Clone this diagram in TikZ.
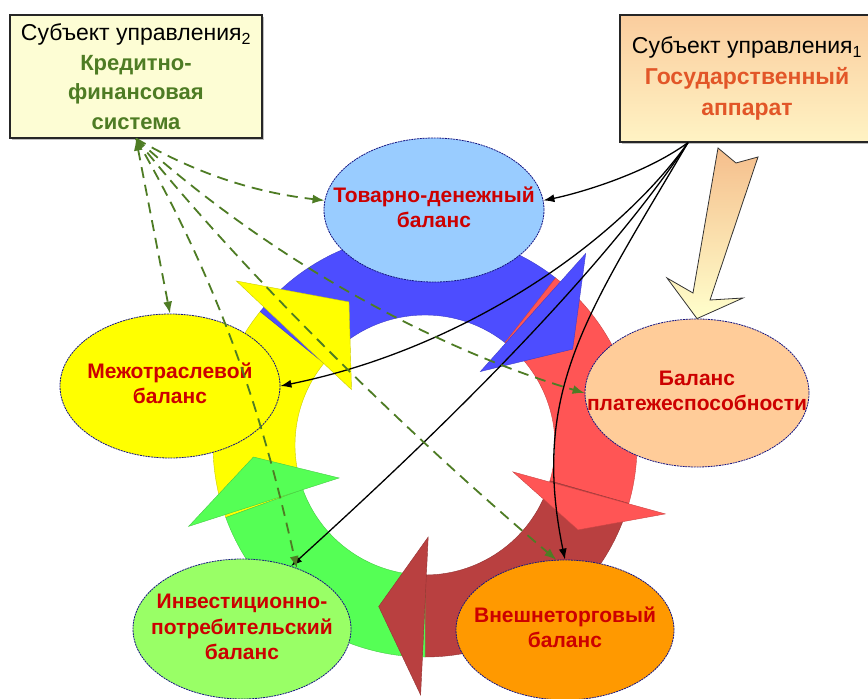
\documentclass[tikz,border=0pt]{standalone}
\usepackage{fontspec}
\setmainfont{Liberation Sans}
\usepackage{tikz}
\usetikzlibrary{arrows.meta,shapes.geometric,shadows}

\definecolor{balred}{RGB}{204,0,0}
\definecolor{credgreen}{RGB}{78,124,36}
\definecolor{govorange}{RGB}{226,86,40}
\definecolor{ringblue}{RGB}{77,77,255}
\definecolor{ringred}{RGB}{255,85,85}
\definecolor{ringbrown}{RGB}{185,64,64}
\definecolor{ringgreen}{RGB}{85,255,85}
\definecolor{ringyellow}{RGB}{255,255,0}
\definecolor{ovalnavy}{RGB}{20,20,130}
\definecolor{ovalblue}{RGB}{153,204,255}
\definecolor{ovalpeach}{RGB}{255,204,153}
\definecolor{ovallime}{RGB}{153,255,102}
\definecolor{ovalorange}{RGB}{255,153,0}
\definecolor{credtop}{RGB}{253,253,212}
\definecolor{credmid}{RGB}{226,233,198}
\definecolor{govtop}{RGB}{250,205,158}
\definecolor{govbot}{RGB}{255,243,196}
\definecolor{fattop}{RGB}{245,190,140}
\definecolor{fatbot}{RGB}{255,255,204}

\newcommand{\ovaltext}[1]{\makebox[0pt]{\begin{tabular}{@{}c@{}}#1\end{tabular}}}

\begin{document}
\begin{tikzpicture}[
    x=1pt, y=-1pt,
    subj/.style={rectangle, draw=black!85, line width=1.2pt, align=center, inner sep=2pt,
      font=\fontsize{23}{29.5}\selectfont, drop shadow={shadow xshift=1.5pt, shadow yshift=-1.5pt, opacity=0.5}},
    oval/.style={ellipse, draw=ovalnavy, line width=0.8pt, dash pattern=on 2pt off 0.8pt,
      minimum width=220, minimum height=144, inner sep=0pt,
      font=\fontsize{21}{25.5}\selectfont\bfseries, text=balred},
    ringpart/.style={fill=#1, draw=#1!80!black, line width=0.4pt},
    ctrl/.style={draw=black, line width=1.3pt, ->, >={Latex[length=11pt,width=8pt]}},
    fin/.style={draw=credgreen, line width=1.8pt, dash pattern=on 11pt off 7pt, ->, >={Latex[length=12pt,width=9pt]}},
    fatarrow/.style={draw=black!80, line width=0.8pt, top color=fattop, bottom color=fatbot}
]
    \path[fill=white, use as bounding box] (0,0) rectangle (868,699);

    % the ring of five arrows
    \begin{scope}[shift={(425,445)}]
        \foreach \rc/\ra/\rb in {ringyellow/160/219, ringblue/219/308, ringred/308/376, ringbrown/376/450, ringgreen/450/520}
            \filldraw[ringpart=\rc] (\ra:130) arc[start angle=-\ra, end angle=-\rb, radius=130pt]
                -- (\rb:212) arc[start angle=-\rb, end angle=-\ra, radius=212pt] -- cycle;
        \foreach \rc/\bi/\bo/\bt/\br in {ringyellow/217/221/242/162, ringblue/307/310/327/176, ringred/377/376/389/175, ringbrown/448/451/466/168, ringgreen/519/521/536/172}
            \filldraw[ringpart=\rc] (\bi:92) -- (\bo:250) -- (\bt:\br) -- cycle;
    \end{scope}

    % balances
    \node[oval, fill=ovalblue] (tov) at (434,210) {\ovaltext{Товарно-денежный\\баланс}};
    \node[oval, fill=ringyellow] (mezh) at (170,386) {\ovaltext{Межотраслевой\\баланс}};
    \node[oval, fill=ovalpeach, minimum width=224, minimum height=148] (bal) at (697,393) {\ovaltext{Баланс\\платежеспособности}};
    \node[oval, fill=ovallime, minimum width=218, minimum height=140] (inv) at (242,629) {\ovaltext{Инвестиционно-\\потребительский\\баланс}};
    \node[oval, fill=ovalorange, minimum width=218, minimum height=140] (vnesh) at (565,630) {\ovaltext{Внешнеторговый\\баланс}};

    % subjects of management
    \node[subj, top color=credtop, middle color=credmid, bottom color=credtop,
        minimum width=252, minimum height=123] (credit) at (136,76.5)
        {Субъект управления\textsubscript{2}\\
         \textcolor{credgreen}{\fontsize{22}{29.5}\selectfont\bfseries Кредитно-}\\
         \textcolor{credgreen}{\fontsize{22}{29.5}\selectfont\bfseries финансовая}\\
         \textcolor{credgreen}{\fontsize{22}{29.5}\selectfont\bfseries система}};
    \node[subj, top color=govtop, bottom color=govbot, minimum width=254, minimum height=127,
        font=\fontsize{23}{31}\selectfont] (gov) at (747,78.5)
        {Субъект управления\textsubscript{1}\\
         \textcolor{govorange}{\bfseries Государственный}\\
         \textcolor{govorange}{\bfseries аппарат}};

    \draw[fatarrow] (718,148) -- (736,163) -- (758,157) -- (710,300) -- (743,298)
        -- (bal.north) -- (667,278) -- (693,293) -- cycle;

    % state links
    \coordinate (gsrc) at ([xshift=-59pt]gov.south);
    \draw[ctrl] (gsrc) .. controls +(-45,33) and +(30,-6) .. (tov.5);
    \draw[ctrl] (gsrc) .. controls +(-75,105) and +(178,-36) .. (mezh.east);
    \draw[ctrl] (gsrc) .. controls +(-100,150) and +(110,-100) .. (inv.52);
    \draw[ctrl] (gsrc) .. controls +(-100,170) and +(-35,-170) .. (vnesh.north);

    % credit links
    \draw[fin] (credit.south) .. controls +(60,35) and +(-70,-8) .. (tov.175);
    \draw[fin, <->] (credit.south) -- (mezh.north);
    \draw[fin] (credit.south) .. controls +(100,173) and +(-25,-110) .. (inv.48);
    \draw[fin] (credit.south) .. controls +(150,135) and +(-130,-38) .. (bal.west);
    \draw[fin] (credit.south) .. controls +(120,150) and +(-130,-110) .. (vnesh.97);
\end{tikzpicture}
\end{document}
